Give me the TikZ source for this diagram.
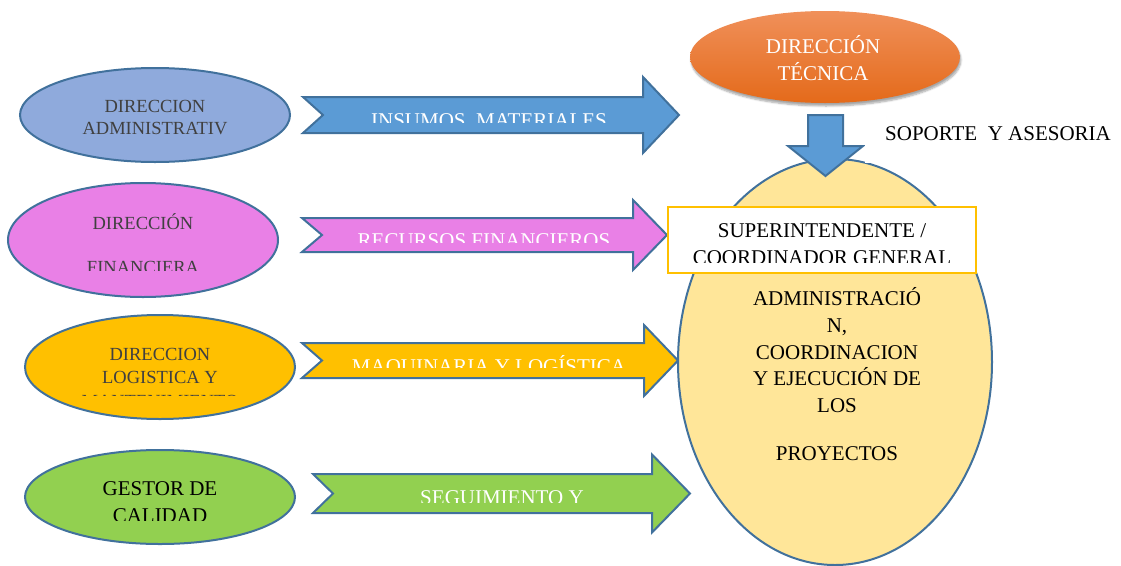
\documentclass[tikz,border=0pt]{standalone}
\usepackage{fontspec}
\setmainfont{Liberation Serif}
\usetikzlibrary{shapes.geometric,shadows.blur}
\definecolor{outl}{HTML}{41719C}
\definecolor{admfill}{HTML}{8FAADC}
\definecolor{finfill}{HTML}{E980E6}
\definecolor{logfill}{HTML}{FFC000}
\definecolor{calfill}{HTML}{92D050}
\definecolor{arrblue}{HTML}{5B9BD5}
\definecolor{bigfill}{HTML}{FFE699}
\definecolor{boxyellow}{HTML}{FFC000}
\definecolor{tectop}{HTML}{F0905A}
\definecolor{tecbot}{HTML}{E46A1A}
\definecolor{graytext}{HTML}{404040}
\begin{document}
\begin{tikzpicture}[x=1pt,y=-1pt,
  ol/.style={draw=outl, line width=2pt, line join=miter},
  ell/.style={ellipse, ol, inner sep=0pt},
  t/.style={anchor=base, inner sep=0pt},
  fsmall/.style={font=\fontsize{18.5}{22}\selectfont},
  fbig/.style={font=\fontsize{21}{25}\selectfont},
]
\useasboundingbox (0,0) rectangle (1121,565);

% left ellipses
\node[ell, fill=admfill, minimum width=270, minimum height=94] (adm) at (155,115) {};
\node[ell, fill=finfill, minimum width=270, minimum height=114] (fin) at (143,240) {};
\node[ell, fill=logfill, minimum width=270, minimum height=104] (log) at (160,367) {};
\node[ell, fill=calfill, minimum width=270, minimum height=94] (cal) at (160,497) {};

\node[t, fsmall, text=graytext] (adm1) at (155,112) {DIRECCION};
\node[t, fsmall, text=graytext] (adm2) at (155,134) {ADMINISTRATIV};
\node[t, fsmall, text=graytext] (fin1) at (143,229) {DIRECCIÓN};
\begin{scope}
  \clip (0,240) rectangle (300,270);
  \node[t, fsmall, text=graytext] (fin2) at (143,273) {FINANCIERA};
\end{scope}
\node[t, fsmall, text=graytext] (log1) at (160,360) {DIRECCION};
\node[t, fsmall, text=graytext] (log2) at (160,383) {LOGISTICA Y};
\begin{scope}
  \clip (0,390) rectangle (300,395);
  \node[t, fsmall, text=graytext] (log3) at (160,407) {MANTENIMIENTO};
\end{scope}
\node[t, fbig, text=black] (cal1) at (160,495) {GESTOR DE};
\begin{scope}
  \clip (0,500) rectangle (300,520);
  \node[t, fbig, text=black] (cal2) at (160,522) {CALIDAD};
\end{scope}

% horizontal block arrows
\draw[ol, fill=arrblue] (303,97) -- (643,97) -- (643,77) -- (679,115) -- (643,153) -- (643,133) -- (303,133) -- (323,115) -- cycle;
\draw[ol, fill=finfill] (302,218) -- (633,218) -- (633,200) -- (667,235) -- (633,270) -- (633,252) -- (302,252) -- (322,235) -- cycle;
\draw[ol, fill=logfill] (302,343) -- (644,343) -- (644,325) -- (678,360.5) -- (644,396) -- (644,378) -- (302,378) -- (322,360.5) -- cycle;
\draw[ol, fill=calfill] (313,474) -- (652,474) -- (652,454.5) -- (690,493.5) -- (652,532.5) -- (652,513) -- (313,513) -- (333,493.5) -- cycle;

\begin{scope}
  \clip (300,100) rectangle (680,122);
  \node[t, fbig, text=white] (a1) at (489,127) {INSUMOS\ \ MATERIALES};
\end{scope}
\begin{scope}
  \clip (300,220) rectangle (680,242);
  \node[t, fbig, text=white] (a2) at (484,247) {RECURSOS FINANCIEROS};
\end{scope}
\begin{scope}
  \clip (300,345) rectangle (680,367);
  \node[t, fbig, text=white] (a3) at (489,373) {MAQUINARIA Y LOGÍSTICA};
\end{scope}
\begin{scope}
  \clip (300,476) rectangle (690,502);
  \node[t, fbig, text=white] (a4) at (502,504) {SEGUIMIENTO Y};
\end{scope}

% big ellipse
\node[ell, fill=bigfill, minimum width=314, minimum height=406] (big) at (835,362) {};
\node[t, fbig] (b1) at (837,305) {ADMINISTRACIÓ};
\node[t, fbig] (b2) at (837,332) {N,};
\node[t, fbig] (b3) at (837,359) {COORDINACION};
\node[t, fbig] (b4) at (837,385) {Y EJECUCIÓN DE};
\node[t, fbig] (b5) at (837,412) {LOS};
\node[t, fbig] (b6) at (837,460) {PROYECTOS};

% technical direction
\node[ellipse, inner sep=0pt, minimum width=270, minimum height=92,
      top color=tectop, bottom color=tecbot,
      blur shadow={shadow xshift=1pt, shadow yshift=-3pt, shadow blur steps=6, shadow opacity=35}] (tec) at (825,57) {};
\node[t, fbig, text=white] (tec1) at (823,53) {DIRECCIÓN};
\node[t, fbig, text=white] (tec2) at (823,80) {TÉCNICA};

% down arrow
\draw[ol, fill=arrblue] (808,115) -- (843,115) -- (843,146) -- (863,146) -- (825.5,176) -- (788,146) -- (808,146) -- cycle;

% support label
\fill[white] (865,110) rectangle (1121,163);
\node[t, fbig, anchor=base west] (sop) at (885,140) {SOPORTE\ \ Y ASESORIA};

% superintendent box
\node[draw=boxyellow, line width=2.5pt, fill=white, minimum width=308, minimum height=66, inner sep=0pt] (sup) at (822,240) {};
\node[t, fbig] (sup1) at (822,237) {SUPERINTENDENTE /};
\begin{scope}
  \clip (670,245) rectangle (975,262);
  \node[t, fbig] (sup2) at (822,264) {COORDINADOR GENERAL};
\end{scope}
\end{tikzpicture}
\end{document}
